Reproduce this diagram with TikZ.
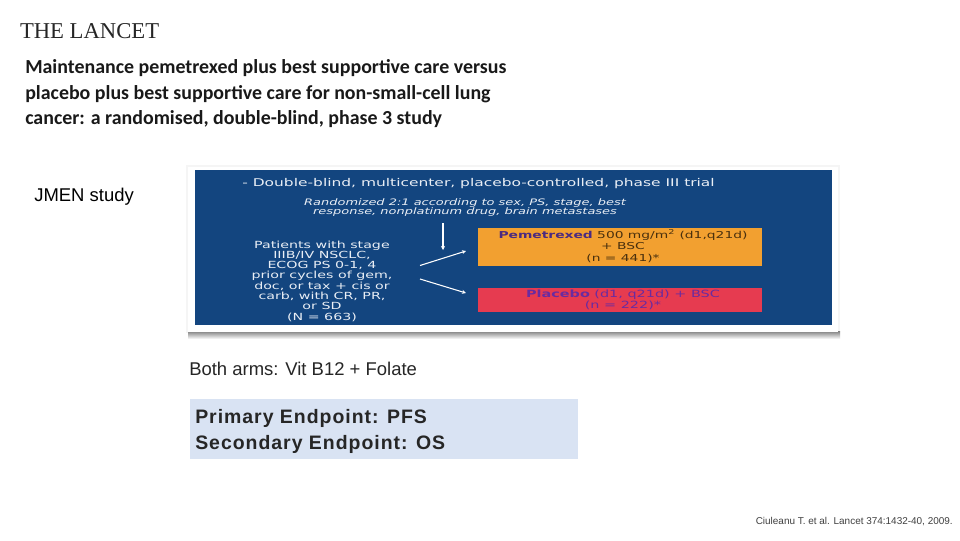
\documentclass[tikz,border=0pt]{standalone}
\usepackage{fontspec}
\setmainfont{Liberation Sans}
\newfontfamily\ttl{Carlito}
\newfontfamily\srf{Liberation Serif}
\newfontfamily\wide[FakeStretch=1.45]{DejaVu Sans}
\usetikzlibrary{arrows.meta}
\definecolor{panelblue}{HTML}{13457F}
\definecolor{armorange}{HTML}{F2A030}
\definecolor{armred}{HTML}{E63B50}
\definecolor{endfill}{HTML}{D9E3F3}
\definecolor{inkpurple}{HTML}{4B2A80}
\definecolor{redtext}{HTML}{6A2BA0}
\definecolor{paneltext}{HTML}{E9EEF5}
\tikzset{
  px/.style={x=0.75pt,y=-0.75pt},
  lbl/.style={inner sep=0pt,outer sep=0pt,text=#1,align=center},
  lbl/.default=black,
  titleline/.style={inner sep=0pt,anchor=base west,text=black!90,font=\ttl\bfseries\fontsize{14.93pt}{18pt}\selectfont},
  plain/.style={inner sep=0pt,anchor=base west,text=black!85,font=\fontsize{13.85pt}{16pt}\selectfont},
  endpoint/.style={inner sep=0pt,anchor=base west,text=black!85,font=\bfseries\fontsize{14.6pt}{16pt}\selectfont\addfontfeature{LetterSpace=5}},
  slide/.style={lbl=paneltext},
  flow/.style={draw=white,line width=0.8pt,-{Stealth[length=3pt,width=3pt]}},
  armbox/.style={inner sep=0pt,outer sep=0pt,minimum width=213pt},
}
\begin{document}
\begin{tikzpicture}[px]
\useasboundingbox (0,0) rectangle (960,540);
\fill[white] (0,0) rectangle (960,540);
\node[lbl,anchor=base west,font=\srf\fontsize{17pt}{18pt}\selectfont,text=black!85] (journal) at (20,38) {THE LANCET};
\node[titleline] (t1) at (25,73.5) {Maintenance pemetrexed plus best supportive care versus};
\node[titleline] (t2) at (25,99) {placebo plus best supportive care for non-small-cell lung};
\node[titleline] (t3) at (25,124.5) {cancer: a randomised, double-blind, phase 3 study};
\node[plain,text=black] (jmen) at (34,201) {JMEN study};
% photo frame with soft shadow
\fill[black!4] (186,165) rectangle (840,333);
\shade[top color=black!50,bottom color=white] (188,331) rectangle (840,339);
\fill[white] (188,167) rectangle (838,332);
\node[fill=panelblue,inner sep=0pt,outer sep=0pt,minimum width=477.75pt,minimum height=116.25pt,anchor=north west] (panel) at (195,170) {};
\node[slide,font=\wide\fontsize{8pt}{10pt}\selectfont] (head) at (478.5,184) {- Double-blind, multicenter, placebo-controlled, phase III trial};
\node[slide,font=\wide\itshape\fontsize{6.7pt}{7.1pt}\selectfont] (rand) at (465,207.5) {Randomized 2:1 according to sex, PS, stage, best\\response, nonplatinum drug, brain metastases};
\node[slide,font=\wide\fontsize{7.35pt}{7.7pt}\selectfont] (pts) at (322,281) {Patients with stage\\IIIB/IV NSCLC,\\ECOG PS 0-1, 4\\prior cycles of gem,\\doc, or tax + cis or\\carb, with CR, PR,\\or SD\\(N = 663)};
\node[armbox,fill=armorange,minimum height=28.5pt,anchor=north west] (armA) at (478,228) {};
\node[armbox,fill=armred,minimum height=18pt,anchor=north west] (armB) at (478,288) {};
\node[lbl=black!70!armorange,font=\wide\fontsize{7.15pt}{7.6pt}\selectfont] (armAtxt) at (623,246.5) {\textcolor{inkpurple}{\textbf{Pemetrexed}} 500 mg/m\textsuperscript{2} (d1,q21d)\\+ BSC\\[2pt](n = 441)*};
\node[font=\wide\fontsize{7.45pt}{6.9pt}\selectfont,lbl=redtext] (armBtxt) at (623,300) {\textbf{Placebo} (d1, q21d) + BSC\\(n = 222)*};
\coordinate (v0) at (443,223); \coordinate (v1) at (443,250);
\coordinate (a0) at (420,265.5); \coordinate (a1) at (466,251);
\coordinate (b0) at (420,279); \coordinate (b1) at (466,293);
\draw[flow] (v0) -- (v1);
\draw[flow] (a0) -- (a1);
\draw[flow] (b0) -- (b1);
\node[plain] (arms) at (189,375) {Both arms: Vit B12 + Folate};
\node[fill=endfill,inner sep=0pt,outer sep=0pt,minimum width=291pt,minimum height=45pt,anchor=north west] (ep) at (190,399) {};
\node[endpoint] (ep1) at (195,423.5) {Primary Endpoint: PFS};
\node[endpoint] (ep2) at (195,449.5) {Secondary Endpoint: OS};
\node[inner sep=0pt,anchor=base east,font=\fontsize{7.47pt}{8pt}\selectfont,text=black!75] (cite) at (953,524) {Ciuleanu T. et al. Lancet 374:1432-40, 2009.};
\end{tikzpicture}
\end{document}
